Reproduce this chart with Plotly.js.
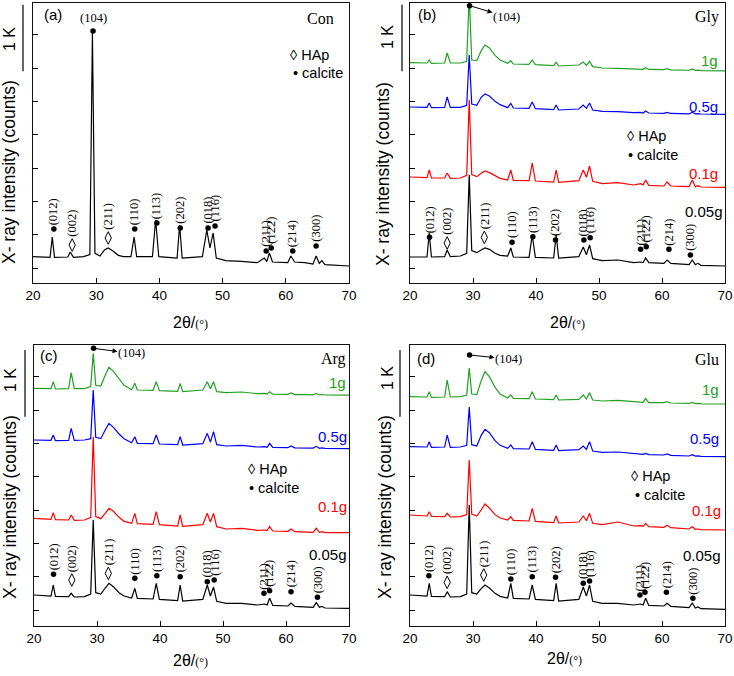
<!DOCTYPE html>
<html><head><meta charset="utf-8">
<script src="https://cdn.plot.ly/plotly-3.0.1.min.js"></script>
<style>html,body{margin:0;padding:0;background:#fff}</style>
</head><body><div id="chart" style="width:734px;height:676px"></div>
<script>
// ---------- DATA ----------
const twoTheta = [
 20, 21.5, 22.7, 23.05, 23.4, 25.5, 25.9, 26.4, 28.0, 29.0,
 29.4, 29.8, 30.6, 31.3, 31.9, 32.6, 33.5, 34.3, 35.5, 36.0,
 36.4, 38.9, 39.4, 39.9, 42.8, 43.2, 43.6, 46.8, 47.5, 48.0,
 48.5, 49.0, 50.5, 53.0, 55.5, 56.6, 57.0, 57.4, 57.9, 60.3,
 60.8, 61.4, 63.0, 64.3, 64.8, 65.3, 65.7, 66.2, 70];

const conY = [
 170,160,160,465,160,165,240,160,170,200,
 3525,220,180,270,300,260,190,170,170,465,
 170,170,720,170,150,645,150,170,570,300,
 525,150,110,100,80,150,95,225,90,80,
 180,90,80,60,180,70,110,50,30];

const gly005 = [
 165,160,165,525,165,170,270,170,180,220,
 1400,260,230,270,300,280,220,190,180,300,
 165,160,495,160,150,495,150,170,315,200,
 345,140,110,120,80,90,80,150,80,70,
 120,70,60,50,120,50,70,40,30];
const gly01 = [
 1365,1360,1355,1470,1350,1350,1425,1345,1350,1390,
 2520,1400,1370,1420,1455,1430,1380,1345,1320,1470,
 1315,1310,1575,1305,1290,1470,1285,1310,1470,1360,
 1530,1300,1265,1280,1245,1265,1245,1320,1240,1230,
 1290,1230,1225,1220,1320,1220,1235,1215,1210];
const gly05 = [
 2415,2410,2410,2475,2405,2410,2565,2410,2410,2440,
 3195,2460,2440,2560,2610,2580,2500,2450,2405,2470,
 2400,2395,2490,2390,2375,2445,2370,2385,2445,2395,
 2475,2370,2350,2345,2330,2335,2325,2355,2325,2320,
 2335,2318,2315,2312,2335,2312,2315,2310,2305];
const gly1 = [
 3080,3075,3075,3120,3070,3075,3225,3075,3075,3100,
 4100,3120,3110,3260,3345,3300,3190,3120,3070,3110,
 3060,3055,3120,3050,3035,3085,3030,3045,3090,3040,
 3100,3020,3000,2995,2985,2985,2980,3005,2978,2975,
 2990,2972,2970,2966,2985,2964,2968,2962,2958];

const arg005 = [
 225,215,210,375,205,200,250,195,200,240,
 1350,260,240,330,400,350,260,210,180,325,
 175,165,400,160,140,375,135,160,375,210,
 345,130,100,100,75,90,75,175,70,60,
 105,55,50,40,110,40,55,30,25];
const arg01 = [
 1375,1365,1360,1460,1355,1350,1425,1345,1350,1390,
 2600,1400,1370,1450,1525,1480,1390,1330,1300,1450,
 1295,1285,1475,1280,1260,1425,1255,1280,1450,1320,
 1450,1250,1215,1225,1195,1200,1190,1250,1185,1180,
 1215,1175,1170,1165,1225,1165,1175,1162,1160];
const arg05 = [
 2550,2545,2545,2625,2540,2545,2725,2545,2550,2570,
 3300,2590,2570,2700,2800,2740,2640,2570,2510,2600,
 2500,2495,2625,2490,2480,2600,2475,2495,2650,2520,
 2675,2480,2460,2470,2445,2450,2440,2500,2440,2435,
 2460,2432,2430,2428,2455,2426,2432,2425,2422];
const arg1 = [
 3325,3320,3320,3425,3315,3320,3560,3320,3320,3350,
 3850,3370,3360,3520,3640,3580,3460,3370,3305,3400,
 3300,3295,3425,3290,3280,3400,3275,3300,3425,3320,
 3425,3275,3260,3270,3245,3250,3240,3275,3238,3235,
 3255,3232,3230,3228,3250,3226,3232,3225,3222];

const glu005 = [
 225,215,210,400,205,200,275,195,200,240,
 1575,260,240,320,375,330,250,205,180,400,
 175,165,375,160,140,400,135,160,345,210,
 375,130,100,100,75,90,75,175,70,60,
 100,55,45,35,105,30,45,20,10];
const glu01 = [
 1425,1415,1410,1475,1405,1400,1450,1395,1400,1430,
 2250,1440,1410,1500,1590,1530,1430,1380,1350,1400,
 1345,1335,1525,1330,1310,1410,1305,1320,1410,1340,
 1450,1300,1280,1320,1260,1265,1255,1300,1250,1240,
 1270,1235,1225,1215,1250,1210,1215,1205,1200];
const glu05 = [
 2450,2445,2445,2525,2440,2445,2625,2440,2445,2470,
 3045,2480,2460,2620,2710,2660,2540,2470,2425,2475,
 2420,2415,2525,2410,2395,2475,2390,2405,2460,2410,
 2525,2385,2365,2370,2345,2345,2335,2350,2330,2325,
 2340,2320,2315,2310,2330,2308,2312,2305,2300];
const glu1 = [
 3200,3195,3195,3275,3190,3195,3450,3195,3200,3225,
 3630,3240,3230,3440,3575,3500,3340,3240,3180,3225,
 3175,3170,3275,3165,3155,3225,3150,3160,3225,3165,
 3260,3150,3135,3145,3120,3120,3115,3175,3112,3110,
 3125,3105,3100,3098,3115,3095,3098,3092,3090];

const sampleNames = ['0.05g','0.1g','0.5g','1g'];
const panelTags = ['(a)','(b)','(c)','(d)'];
const panelNames = ['Con','Gly','Arg','Glu'];
const calciteHkl = ['(012)','(110)','(113)','(202)','(018)','(116)','(211)','(122)','(214)','(300)'];
const hapHkl = ['(002)','(211)'];
const label104 = '(104)';

// peak-marker positions (2θ, counts)
const conCalX = [23.3,36.1,39.6,43.3,47.7,48.8,56.9,57.7,61.1,64.8];
const conCalY = [585,585,675,600,600,630,255,300,255,330];
const conHapX = [26.2,31.9], conHapY = [345,450];
const glyCalX = [23.1,36.2,39.5,43.1,47.6,48.6,56.6,57.5,61.1,64.5];
const glyCalY = [460,385,470,420,420,455,280,320,280,195];
const glyHapX = [25.9,31.8], glyHapY = [375,460];
const argCalX = [23.1,36.0,39.5,43.2,47.5,48.6,56.5,57.4,60.8,65.0];
const argCalY = [535,475,515,500,425,450,250,290,275,190];
const argHapX = [26.0,31.8], argHapY = [450,550];
const gluCalX = [23.0,36.0,39.4,43.1,47.5,48.5,56.5,57.3,60.7,64.9];
const gluCalY = [515,465,500,490,400,435,225,265,265,175];
const gluHapX = [25.9,31.7], gluHapY = [415,525];
const dot104 = {a:[29.5,3555], b:[29.45,3935], c:[29.45,3925], d:[29.45,3825]};

// ---------- STYLE / LAYOUT ----------
const W = 734, H = 676;
const SANS = 'Liberation Sans, Arial, sans-serif';
const SERIF = 'Liberation Serif, Times New Roman, serif';
const COLORS = ['#000000','#ff0000','#0000ff','#22a022'];
const fx = v => v / W, fy = v => 1 - v / H;

const panels = [
 {id:'', xd:[33,349], yd:[3,283], yr:[-225,3975], series:[conY], calX:conCalX, calY:conCalY, hapX:conHapX, hapY:conHapY, d104:dot104.a,
  tag:[43,15], name:[335,18], k:[9,39], bar:[23,2950,3950], ytl:[9,172], xtl:[190,323], leg:[[289,55],[292,73]], samples:null, arrow:null},
 {id:'2', xd:[410,725], yd:[3,283], yr:[-225,3975], series:[gly005,gly01,gly05,gly1], calX:glyCalX, calY:glyCalY, hapX:glyHapX, hapY:glyHapY, d104:dot104.b,
  tag:[417,15], name:[720,17], k:[387,37], bar:[402,2950,3950], ytl:[383,174], xtl:[567,322], leg:[[626,136],[627,155]],
  samples:[[724,211],[719,173],[719,106],[719,60]], arrow:[37,11]},
 {id:'3', xd:[34,349], yd:[345,626], yr:[-240,3975], series:[arg005,arg01,arg05,arg1], calX:argCalX, calY:argCalY, hapX:argHapX, hapY:argHapY, d104:dot104.c,
  tag:[39,355], name:[347,359], k:[10,380], bar:[25,2900,3900], ytl:[10,507], xtl:[190,660], leg:[[247,469],[248,488]],
  samples:[[348,554],[348,506],[348,436],[347,383]], arrow:[38,5]},
 {id:'4', xd:[410,725], yd:[345,626], yr:[-240,3975], series:[glu005,glu01,glu05,glu1], calX:gluCalX, calY:gluCalY, hapX:gluHapX, hapY:gluHapY, d104:dot104.d,
  tag:[416,358], name:[720,359], k:[387,378], bar:[400,2900,3900], ytl:[385,507], xtl:[564,658], leg:[[630,476],[634,495]],
  samples:[[722,555],[722,510],[720,438],[720,390]], arrow:[39,4]}
];

const traces = [], annotations = [], shapes = [];
const layout = {width:W, height:H, margin:{l:0,r:0,t:0,b:0}, paper_bgcolor:'#fff', plot_bgcolor:'#fff',
  showlegend:false, font:{family:SANS, color:'#000'}};

panels.forEach((p, i) => {
  const xa = 'x' + p.id, ya = 'y' + p.id;
  layout['xaxis' + p.id] = {domain:[fx(p.xd[0]), fx(p.xd[1])], anchor:ya, range:[20,70], tick0:20, dtick:10,
    ticks:'inside', ticklen:5, tickwidth:1, tickcolor:'#000', showline:true, mirror:true, linecolor:'#111', linewidth:1,
    showgrid:false, zeroline:false, tickfont:{family:SANS, size:13.5, color:'#000'}, fixedrange:true};
  layout['yaxis' + p.id] = {domain:[fy(p.yd[1]), fy(p.yd[0])], anchor:xa, range:p.yr, tick0:0, dtick:500,
    ticks:'inside', ticklen:5, tickwidth:1, tickcolor:'#000', showline:true, mirror:true, linecolor:'#111', linewidth:1,
    showgrid:false, zeroline:false, showticklabels:false, fixedrange:true};

  p.series.forEach((ys, j) => {
    traces.push({x:twoTheta, y:ys, type:'scatter', mode:'lines', xaxis:xa, yaxis:ya, hoverinfo:'skip',
      line:{color: p.series.length === 1 ? '#000' : COLORS[j], width:1.2}});
  });
  // calcite dots
  traces.push({x:p.calX.concat([p.d104[0]]), y:p.calY.concat([p.d104[1]]), type:'scatter', mode:'markers', xaxis:xa, yaxis:ya,
    cliponaxis:false, hoverinfo:'skip', marker:{symbol:'circle', size:5.5, color:'#000'}});
  // HAp diamonds
  traces.push({x:p.hapX, y:p.hapY, type:'scatter', mode:'markers', xaxis:xa, yaxis:ya, cliponaxis:false, hoverinfo:'skip',
    marker:{symbol:'diamond-tall-open', size:9, color:'#000', line:{width:1, color:'#000'}}});

  p.calX.forEach((x, k) => annotations.push({xref:xa, yref:ya, x, y:p.calY[k], text:calciteHkl[k], textangle:-90,
    showarrow:false, xanchor:'center', yanchor:'bottom', yshift:3, borderpad:0, font:{family:SERIF, size:12.5, color:'#000'}}));
  p.hapX.forEach((x, k) => annotations.push({xref:xa, yref:ya, x, y:p.hapY[k], text:hapHkl[k], textangle:-90,
    showarrow:false, xanchor:'center', yanchor:'bottom', yshift:7, borderpad:0, font:{family:SERIF, size:12.5, color:'#000'}}));

  // (104) label
  if (p.arrow) {
    annotations.push({xref:xa, yref:ya, x:p.d104[0], y:p.d104[1], text:label104, showarrow:true, arrowside:'start',
      startarrowhead:2, startarrowsize:1, arrowwidth:1, arrowcolor:'#000', standoff:0, startstandoff:0,
      ax:p.arrow[0], ay:p.arrow[1], axref:'pixel', ayref:'pixel', borderpad:0,
      font:{family:SERIF, size:12.5, color:'#000'}});
  } else {
    annotations.push({xref:xa, yref:ya, x:p.d104[0], y:p.d104[1], text:label104, showarrow:false, yanchor:'bottom', yshift:4,
      font:{family:SERIF, size:12.5, color:'#000'}});
  }

  const pa = (pt, text, opts) => annotations.push(Object.assign({xref:'paper', yref:'paper', x:fx(pt[0]), y:fy(pt[1]),
    text, showarrow:false, xanchor:'center', yanchor:'middle', borderpad:0}, opts));
  pa(p.tag, panelTags[i], {xanchor:'left', font:{family:SANS, size:15, color:'#000'}});
  pa(p.name, panelNames[i], {xanchor:'right', font:{family:SERIF, size:16, color:'#000'}});
  pa(p.k, '1 K', {textangle:-90, font:{family:SANS, size:16, color:'#000'}});
  pa(p.ytl, 'X- ray intensity (counts)', {textangle:-90, font:{family:SANS, size:17.5, color:'#000'}});
  pa(p.xtl, '2θ/<span style="font-family:Liberation Serif;font-size:12px">(°)</span>', {font:{family:SANS, size:16, color:'#000'}});
  pa(p.leg[0], '◊ HAp', {xanchor:'left', font:{family:SANS, size:14.5, color:'#000'}});
  pa(p.leg[1], '• calcite', {xanchor:'left', font:{family:SANS, size:14.5, color:'#000'}});
  if (p.samples) p.samples.forEach((pt, j) => pa(pt, sampleNames[j], {xanchor:'right', font:{family:SANS, size:15, color:COLORS[j]}}));

  // 1 K scale bar (spans 1000 counts on this panel's y scale)
  const toPaper = v => fy(p.yd[1]) + (v - p.yr[0]) / (p.yr[1] - p.yr[0]) * (fy(p.yd[0]) - fy(p.yd[1]));
  shapes.push({type:'line', xref:'paper', yref:'paper', x0:fx(p.bar[0]), x1:fx(p.bar[0]), y0:toPaper(p.bar[1]), y1:toPaper(p.bar[2]),
    line:{color:'#000', width:1.2}});
});
layout.annotations = annotations;
layout.shapes = shapes;
Plotly.newPlot('chart', traces, layout, {staticPlot:true, displayModeBar:false});
</script></body></html>
